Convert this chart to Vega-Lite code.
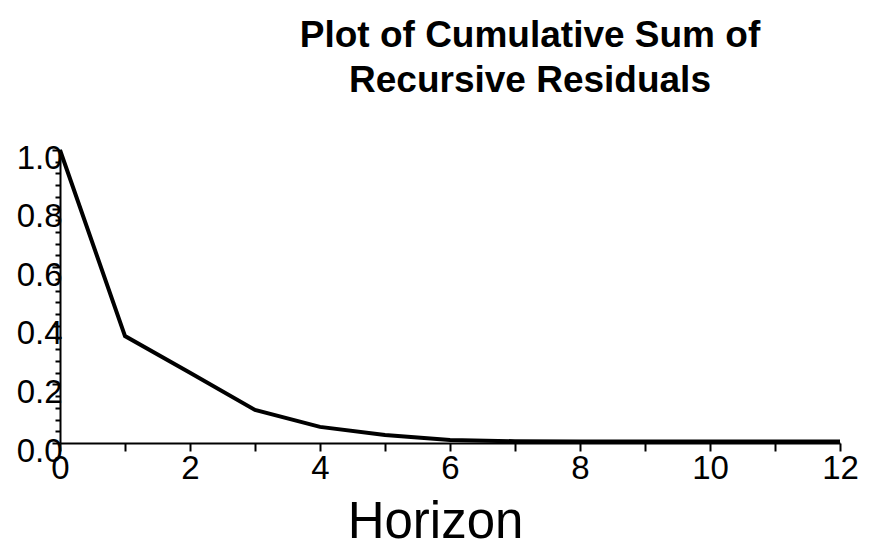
{
  "$schema": "https://vega.github.io/schema/vega-lite/v6.json",
  "width": 780,
  "height": 293,
  "autosize": "none",
  "padding": {"left": 60, "top": 150, "right": 30, "bottom": 111},
  "background": "white",
  "title": {
    "text": ["Plot of Cumulative Sum of", "Recursive Residuals"],
    "font": "Liberation Sans",
    "fontSize": 37,
    "fontWeight": "bold",
    "color": "black",
    "anchor": "middle",
    "dx": 80,
    "lineHeight": 45,
    "offset": 42
  },
  "data": {
    "values": [
      {"h": 0, "v": 1.0},
      {"h": 1, "v": 0.365},
      {"h": 2, "v": 0.24},
      {"h": 3, "v": 0.113},
      {"h": 4, "v": 0.055},
      {"h": 5, "v": 0.027},
      {"h": 6, "v": 0.01},
      {"h": 7, "v": 0.006},
      {"h": 8, "v": 0.005},
      {"h": 9, "v": 0.005},
      {"h": 10, "v": 0.005},
      {"h": 11, "v": 0.005},
      {"h": 12, "v": 0.005}
    ]
  },
  "mark": {"type": "line", "color": "black", "strokeWidth": 4, "strokeJoin": "miter"},
  "encoding": {
    "x": {
      "field": "h",
      "type": "quantitative",
      "scale": {"domain": [0, 12], "nice": false, "zero": false},
      "axis": {
        "title": "Horizon",
        "titleFont": "Liberation Sans",
        "titleFontSize": 51,
        "titleFontWeight": "normal",
        "titleColor": "black",
        "titlePadding": 12,
        "titleX": 375,
        "values": [0, 1, 2, 3, 4, 5, 6, 7, 8, 9, 10, 11, 12],
        "labelExpr": "datum.value % 2 == 0 ? datum.label : ''",
        "labelFont": "Liberation Sans",
        "labelFontSize": 33,
        "labelColor": "black",
        "labelPadding": 1,
        "labelFlush": false,
        "labelOverlap": false,
        "grid": false,
        "domainColor": "black",
        "domainWidth": 2,
        "tickColor": "black",
        "tickWidth": 2,
        "tickSize": 8
      }
    },
    "y": {
      "field": "v",
      "type": "quantitative",
      "scale": {"domain": [0, 1], "nice": false},
      "axis": {
        "title": null,
        "values": [0, 0.04, 0.08, 0.12, 0.16, 0.2, 0.24, 0.28, 0.32, 0.36, 0.4, 0.44, 0.48, 0.52, 0.56, 0.6, 0.64, 0.68, 0.72, 0.76, 0.8, 0.84, 0.88, 0.92, 0.96, 1.0],
        "format": ".1f",
        "labelExpr": "abs(datum.value * 5 - round(datum.value * 5)) < 0.001 ? datum.label : ''",
        "labelFont": "Liberation Sans",
        "labelFontSize": 33,
        "labelColor": "black",
        "labelPadding": -10,
        "labelOffset": 8,
        "labelFlush": false,
        "labelOverlap": false,
        "grid": false,
        "domainColor": "black",
        "domainWidth": 2,
        "tickColor": "black",
        "tickWidth": 2,
        "tickSize": {"condition": {"test": "abs(datum.value * 5 - round(datum.value * 5)) < 0.001", "value": 8}, "value": 5}
      }
    }
  },
  "config": {"view": {"stroke": null}}
}
